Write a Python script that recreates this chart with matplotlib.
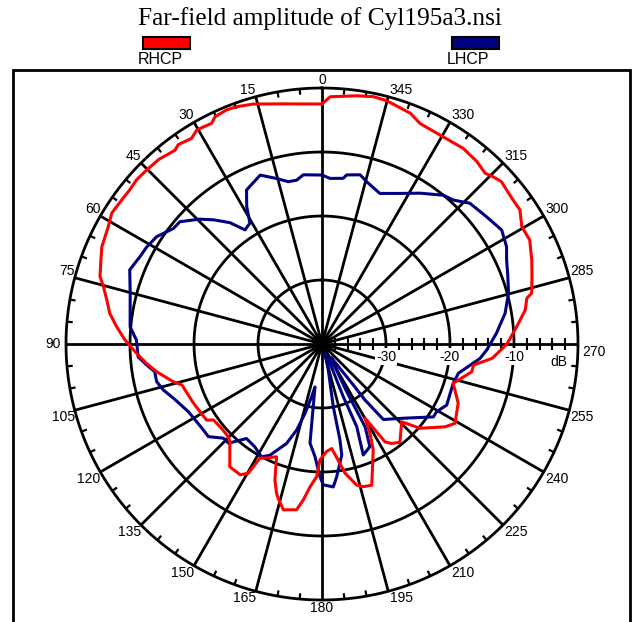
import numpy as np
import matplotlib
matplotlib.use("Agg")
import matplotlib.pyplot as plt
from matplotlib.patches import Rectangle

# ---------------- data ----------------
title = "Far-field amplitude of Cyl195a3.nsi"
series_names = ["RHCP", "LHCP"]
series_colors = ["#ff0000", "#000080"]

rhcp_angle_deg = [0, 5, 10, 16, 19.8, 22.2, 25.2, 26.6, 30.3, 32.4, 35.8, 37.2, 41.5, 45.2,
                  48.5, 51.3, 54.3, 58.1, 61.2, 66.2, 70, 73.1, 75.3, 78.5, 81.8, 85.2, 88.8,
                  92.9, 96.3, 99.5, 104.2, 106.3, 110.4, 114.7, 119, 123.4, 125, 130, 134.7,
                  136.7, 140, 143.1, 148, 150.3, 151.5, 154.2, 157.4, 158.1, 160.9, 163.1,
                  164.2, 166.9, 171.3, 173.2, 175.2, 177.7, 179, 182.5, 185.3, 189.1, 190.1,
                  193.8, 196.1, 199.4, 205.8, 208.3, 210.1, 212.8, 215.1, 218.4, 225.7, 229.3,
                  236.1, 239.2, 246.5, 253.3, 259.5, 262.1, 265.2, 270, 275.1, 279.5, 282.6,
                  283.6, 287.5, 291.8, 296.6, 300.4, 304.1, 307.5, 312.1, 314.3, 316.3, 319.7,
                  324.2, 329.7, 336, 339, 345.1, 348.3, 352, 358.1, 360]
rhcp_db = [-2.5, -2.35, -1.9, -1.0, -0.6, -0.5, -0.75, -1.45, -1.25, -1.95, -1.6, -2.0, -1.5, -1.4,
           -1.3, -1.5, -1.45, -1.3, -1.9, -2.4, -3.2, -3.75, -4.7, -5.7, -6.5, -7.8, -9.2,
           -11.0, -12.4, -13.8, -16.0, -17.2, -17.6, -17.9, -18.2, -18.4, -19.3, -19.5, -19.4,
           -19.0, -17.6, -16.0, -15.9, -16.75, -19.7, -20.2, -20.9, -21.0, -17.5, -15.6,
           -14.9, -13.4, -13.8, -15.5, -17.6, -19.25, -21.9, -23.2, -23.6, -20.6, -19.5,
           -17.3, -16.8, -16.6, -21.6, -24.2, -26.6, -21.8, -21.0, -20.4, -22.6, -19.8,
           -16.8, -15.8, -16.8, -18.6, -16.2, -16.1, -13.3, -11.1, -9.45, -7.8, -7.2,
           -6.3, -5.6, -4.7, -3.7, -3.8, -2.65, -2.6, -2.2, -2.6, -3.1, -2.6,
           -2.3, -2.5, -2.3, -1.4, -0.66, -0.53, -0.83, -1.35, -2.5]

lhcp_angle_deg = [0, 6.3, 8.8, 11.7, 15.3, 20.1, 26.1, 28.7, 30.8, 34, 37.2, 41, 44.4, 49.3, 52.1,
                  57, 61, 64.4, 68.9, 75.2, 84.9, 88.8, 94, 96.8, 99.4, 102.8, 106.2, 110.1,
                  116.9, 122.7, 125.9, 129.2, 133.7, 136.7, 141.4, 146.9, 151.8, 154.9, 160.4,
                  163.6, 166.2, 168.9, 170.7, 173.1, 176.4, 179.1, 180.5, 184.5, 186.3, 190.1,
                  190.6, 190.2, 193.6, 197, 202.5, 202, 202.8, 200.4, 205, 207.5, 207.4, 210.3,
                  214, 217.4, 217.5, 219.1, 227.6, 236.8, 239.5, 243.9, 253.3, 257.9, 264.8,
                  267.9, 273.5, 279.5, 285.2, 290, 294.5, 297.8, 302.4, 307.7, 313.6, 317.6,
                  320.8, 327, 333, 339, 344.6, 347.3, 351.7, 352.7, 357.2, 360]
lhcp_db = [-13.6, -13.4, -14.1, -14.1, -13.2, -11.9, -13.2, -15.5, -18.0, -18.5, -16.2, -14.3, -12.7, -10.7, -10.6,
           -9.2, -8.7, -8.45, -7.8, -9.0, -9.9, -11.0, -11.2, -12.4, -13.5, -13.5, -14.2, -15.3,
           -16.6, -17.0, -17.1, -17.1, -18.7, -18.7, -21.1, -20.8, -20.0, -20.8, -23.5,
           -26.0, -28.8, -31.6, -33.2, -24.4, -22.4, -19.3, -18.0, -17.6, -19.1, -22.4,
           -24.7, -30.0, -35.8, -38.5, -36.7, -31.1, -26.0, -21.5, -22.3, -25.4, -31.6, -36.5,
           -37.5, -31.9, -29.0, -24.8, -22.8, -19.2, -19.2, -18.3, -18.6, -18.2, -15.2,
           -14.25, -12.7, -11.0, -9.8, -9.1, -8.3, -7.4, -6.75, -7.5, -8.1, -9.55,
           -10.0, -11.9, -13.6, -14.8, -13.7, -12.9, -13.3, -13.9, -14.1, -13.6]

angle_ticks_deg = list(range(0, 360, 15))
minor_ticks_deg = [a for a in range(0, 360, 5) if a % 15]
ring_db = [-30, -20, -10]
axis_ticks_db = [v for v in range(-38, 0, 2) if v not in ring_db]
r_min, r_max = -40, 0
unit_label = "dB"

# ---------------- figure ----------------
W, H = 635, 622
fig = plt.figure(figsize=(W / 100, H / 100), dpi=100)
cx, cy, R = 322, 344, 256
ax = fig.add_axes([(cx - R) / W, (H - cy - R) / H, 2 * R / W, 2 * R / H], projection="polar")
ax.set_theta_zero_location("N")
ax.set_theta_direction(1)
ax.set_ylim(r_min, r_max)
ax.grid(False)
ax.set_xticks([])
ax.set_yticks([])
ax.spines["polar"].set_visible(False)
ax.patch.set_alpha(0)

sans = "Liberation Sans"
th = np.linspace(0, 2 * np.pi, 721)
for r in ring_db + [r_max]:
    ax.plot(th, np.full_like(th, r), color="black", lw=2.0, zorder=2, clip_on=False)
for a in angle_ticks_deg:
    ax.plot([np.deg2rad(a)] * 2, [r_min, r_max], color="black", lw=2.0, zorder=2,
            solid_capstyle="butt", clip_on=False)
for a in minor_ticks_deg:
    ax.plot([np.deg2rad(a)] * 2, [r_max, r_max - 0.9], color="black", lw=1.6, zorder=2,
            solid_capstyle="butt", clip_on=False)
ax.plot(np.full(len(axis_ticks_db), np.deg2rad(270)), axis_ticks_db, ls="none",
        marker="|", ms=8, mew=1.5, color="black", zorder=2)

# ring labels along 270 axis
for r in ring_db:
    ax.annotate(str(r), xy=(np.deg2rad(270), r), xytext=(0, -4), textcoords="offset points",
                ha="center", va="top", fontsize=10, family=sans, zorder=3,
                bbox=dict(facecolor="white", edgecolor="none", pad=1.0))
ax.annotate(unit_label, xy=(np.deg2rad(270), -3), xytext=(0, -8), textcoords="offset points",
            ha="center", va="top", fontsize=10, family=sans, zorder=3)

# angle labels
for a in angle_ticks_deg:
    if a == 0:
        ha, va, off = "center", "bottom", (0, 1)
    elif a == 180:
        ha, va, off = "center", "top", (0, -1)
    elif a == 90:
        ha, va, off = "right", "center", (-4, 0)
    elif a == 270:
        ha, va, off = "left", "top", (3, -1)
    elif a < 90:
        ha, va, off = "right", "bottom", (0, 0)
    elif a < 180:
        ha, va, off = "right", "top", (0, 0)
    elif a < 270:
        ha, va, off = "left", "top", (1, 0)
    else:
        ha, va, off = "left", "bottom", (1, 0)
    ax.annotate(str(a), xy=(np.deg2rad(a), r_max), xytext=off, textcoords="offset points",
                ha=ha, va=va, fontsize=10, family=sans, annotation_clip=False)

# data
ax.plot(np.deg2rad(lhcp_angle_deg), lhcp_db, color=series_colors[1], lw=2.2, zorder=4,
        clip_on=False)
ax.plot(np.deg2rad(rhcp_angle_deg), rhcp_db, color=series_colors[0], lw=2.2, zorder=5,
        clip_on=False)

# frame
fig.patches.append(Rectangle((13 / W, -0.05), (630 - 13) / W, (H - 70) / H + 0.05,
                             transform=fig.transFigure, fill=False, edgecolor="black",
                             lw=2.0, zorder=0))

# title
fig.text(320 / W, 1 - 19 / H, title, ha="center", va="center", fontsize=18.3,
         family="Liberation Serif")

# legend
legend_x = [143, 452]
for name, color, x0 in zip(series_names, series_colors, legend_x):
    fig.patches.append(Rectangle((x0 / W, 1 - 49 / H), 47 / W, 12 / H,
                                 transform=fig.transFigure, facecolor=color,
                                 edgecolor="black", lw=1.5))
    fig.text((x0 - 5) / W, 1 - 52 / H, name, ha="left", va="top", fontsize=11.5,
             family=sans)

fig.savefig("out.png", dpi=100, facecolor="white")
